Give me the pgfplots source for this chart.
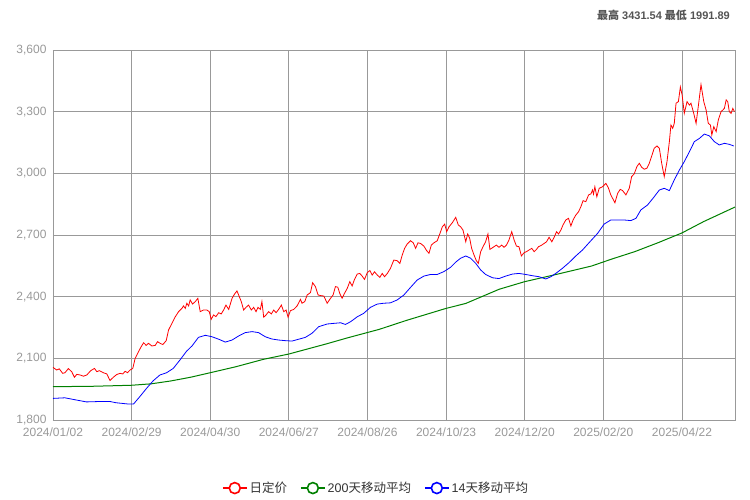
\documentclass[border=0pt]{standalone}
\usepackage{pgfplots}
\pgfplotsset{compat=1.18}
\usepackage{fontspec}
\setmainfont{Liberation Sans}
\newfontfamily\cjk{Noto Sans CJK SC}
\definecolor{gridgray}{HTML}{999999}
\definecolor{ticktext}{HTML}{999999}
\definecolor{ggreen}{HTML}{008000}
\begin{document}
\begin{tikzpicture}
\useasboundingbox (0,0) rectangle (750pt,500pt);
\node[anchor=east, font=\bfseries\fontsize{11}{13}\selectfont, text=black!67, inner sep=0pt] at (730pt,485pt) {{\cjk\bfseries 最高} 3431.54 {\cjk\bfseries 最低} 1991.89};
\begin{axis}[
  at={(53pt,80pt)}, anchor=south west,
  scale only axis, width=682pt, height=370pt,
  xmin=0, xmax=347, ymin=1800, ymax=3600,
  xtick={0,40,80,120,160,200,240,280,320},
  xticklabels={2024/01/02,2024/02/29,2024/04/30,2024/06/27,2024/08/26,2024/10/23,2024/12/20,2025/02/20,2025/04/22},
  ytick={1800,2100,2400,2700,3000,3300,3600},
  grid=major,
  major grid style={draw=gridgray, line width=0.8pt},
  axis line style={draw=gridgray, line width=0.8pt},
  major tick length=0pt,
  tick label style={font=\fontsize{12}{14}\selectfont, text=ticktext},
  xticklabel style={yshift=-4pt},
  /pgf/number format/assume math mode=true,
  yticklabel style={xshift=-3pt, /pgf/number format/.cd, fixed, 1000 sep={,}},
  legend columns=3,
  legend style={at={(0.4736,-0.184)}, anchor=center, draw=none, fill=none,
    font=\fontsize{12.5}{14}\selectfont, text=black!80,
    /tikz/every even column/.append style={column sep=11pt}},
  legend image code/.code={
    \draw[line width=1.6pt] (0pt,0pt) -- (24pt,0pt);
    \draw[line width=1.6pt, fill=white] (12pt,0pt) circle (5.5pt);
  },
]
\addplot[red, line width=0.8pt] coordinates {
(0,2056) (1.9,2043) (3.2,2049) (4.9,2027) (6.1,2030) (7.8,2050) (9.5,2035) (10.9,2008) (12.1,2022) (13.8,2019)
(15.5,2013) (17.2,2019) (19.2,2040) (21.1,2051) (22.3,2035) (23.6,2040) (25.6,2030) (27.4,2024) (29.0,1992) (30.7,2008)
(32.4,2021) (34.1,2027) (35.5,2024) (36.7,2037) (37.9,2030) (39.2,2043) (40.6,2051) (41.8,2100) (43.5,2132) (44.7,2154)
(46.1,2176) (47.4,2163) (48.6,2173) (50.3,2160) (52.0,2163) (53.2,2181) (54.5,2173) (55.9,2167) (57.6,2186) (58.8,2238)
(60.5,2270) (62.2,2302) (63.9,2327) (65.6,2343) (66.4,2355) (67.3,2343) (68.1,2368) (69.0,2355) (69.8,2384) (71.0,2364)
(72.4,2376) (73.7,2392) (74.9,2327) (76.6,2335) (78.3,2335) (79.5,2327) (80.5,2290) (81.7,2311) (82.9,2303) (84.3,2322)
(85.6,2316) (86.8,2335) (88.0,2359) (89.4,2338) (91.1,2392) (92.4,2413) (93.6,2428) (94.8,2400) (95.8,2376) (97.0,2335)
(98.2,2348) (99.5,2359) (100.9,2335) (102.1,2348) (103.3,2327) (104.3,2348) (105.5,2338) (106.3,2376) (107.2,2300) (108.4,2311)
(109.7,2327) (111.1,2316) (112.3,2335) (113.5,2322) (114.8,2338) (116.2,2359) (117.4,2327) (118.6,2335) (119.6,2300) (120.8,2332)
(122.5,2338) (124.2,2355) (125.9,2387) (126.7,2368) (128.1,2376) (129.3,2408) (131.0,2420) (132.1,2468) (133.5,2449) (134.9,2408)
(136.3,2405) (137.8,2403) (139.5,2368) (141.2,2392) (142.5,2408) (143.7,2449) (144.9,2446) (145.9,2416) (147.1,2392) (148.3,2416)
(149.7,2440) (151.0,2473) (152.2,2452) (153.4,2484) (154.8,2510) (156.1,2513) (157.3,2500) (158.5,2484) (159.9,2517) (161.2,2527)
(162.4,2505) (163.6,2521) (165.0,2505) (166.3,2494) (167.5,2513) (168.7,2497) (170.1,2513) (171.7,2538) (173.4,2578) (175.1,2575)
(176.5,2562) (177.7,2603) (178.9,2635) (180.2,2656) (181.9,2672) (183.3,2662) (184.5,2635) (185.7,2662) (187.0,2659) (188.7,2646)
(190.1,2624) (191.3,2611) (192.5,2651) (193.8,2662) (195.5,2672) (196.9,2708) (198.1,2740) (199.3,2753) (200.3,2716) (201.5,2740)
(203.2,2760) (204.9,2786) (206.2,2749) (207.4,2740) (208.6,2724) (210.0,2667) (211.0,2705) (212.0,2684) (213.0,2635) (214.2,2603)
(215.4,2575) (216.4,2562) (217.6,2619) (218.8,2643) (220.1,2667) (221.3,2705) (222.3,2630) (223.9,2640) (225.6,2651) (226.9,2640)
(228.3,2651) (229.5,2640) (230.7,2651) (232.0,2676) (233.4,2716) (234.6,2676) (235.8,2646) (237.1,2643) (238.3,2598) (239.7,2614)
(240.9,2619) (242.2,2627) (243.6,2635) (244.8,2619) (246.0,2630) (247.0,2643) (248.7,2651) (249.9,2659) (251.1,2667) (252.4,2689)
(253.8,2667) (255.0,2689) (256.2,2716) (257.2,2705) (258.4,2724) (259.5,2749) (260.9,2773) (262.3,2781) (263.5,2744) (264.6,2773)
(266.0,2797) (267.4,2813) (268.6,2838) (269.7,2867) (271.1,2862) (272.5,2895) (273.7,2900) (274.5,2919) (275.0,2899) (275.7,2935)
(276.7,2886) (277.9,2927) (279.6,2935) (281.3,2951) (282.5,2931) (283.8,2895) (285.9,2857) (287.3,2903) (288.6,2922) (289.8,2916)
(291.5,2895) (293.2,2927) (294.4,2984) (295.7,2997) (297.1,3033) (298.3,3049) (299.5,3030) (300.8,3020) (302.2,3025) (303.4,3049)
(304.6,3084) (305.9,3122) (307.3,3133) (308.5,3122) (309.7,3049) (311.0,2984) (312.4,3057) (313.6,3154) (314.4,3235) (315.3,3219)
(316.1,3243) (317.0,3341) (318.2,3349) (319.2,3420) (320.1,3381) (321.2,3292) (322.6,3349) (323.8,3332) (324.6,3341) (326.0,3292)
(327.2,3243) (328.3,3324) (329.7,3431.54) (331.1,3349) (332.3,3308) (333.4,3243) (334.5,3235) (335.2,3186) (336.2,3227) (337.4,3203)
(338.5,3259) (339.9,3300) (340.8,3308) (341.6,3316) (342.5,3357) (343.3,3349) (344.1,3300) (345.0,3292) (345.9,3316) (346.7,3300)
};
\addlegendentry{{\cjk 日定价}}
\addplot[ggreen, line width=1pt] coordinates {
(0,1962) (20,1964) (40,1969) (50,1976) (60,1990) (70,2008) (80,2030) (93,2059) (107,2095) (120,2121)
(139,2170) (150,2200) (166,2241) (180,2285) (200,2343) (210,2367) (227,2436) (240,2473) (256,2508) (274,2549)
(284,2582) (296,2619) (308,2663) (320,2710) (331,2765) (347,2836)
};
\addlegendentry{200{\cjk 天移动平均}}
\addplot[blue, line width=0.8pt] coordinates {
(0,1905) (6,1908) (12,1897) (17,1888) (24,1890) (29,1890) (32,1884) (38,1878) (41,1878) (44.2,1914)
(47.6,1954) (51,1991) (54.4,2019) (57.8,2030) (61.2,2051) (64.6,2092) (68,2135) (70.7,2160) (74,2202) (77.5,2212)
(80.9,2205) (84.3,2193) (87.7,2179) (91.1,2189) (94.5,2209) (97.8,2225) (101.3,2230) (104.6,2225) (108,2205) (111.4,2194)
(114.8,2189) (118.2,2186) (121.6,2184) (125,2193) (128.4,2202) (131.8,2222) (135.2,2254) (139.5,2267) (142.8,2270) (146.3,2273)
(148.8,2265) (151.4,2278) (154.8,2302) (158.1,2319) (161.5,2348) (165,2364) (168.3,2368) (171.7,2370) (175.1,2384) (178.5,2408)
(181.9,2445) (185.3,2481) (188.7,2500) (192.1,2508) (195.5,2508) (198.9,2522) (202.3,2543) (204.9,2568) (207.4,2587) (210,2598)
(212.5,2587) (215.1,2562) (217.6,2530) (220.1,2508) (223.6,2492) (226.9,2488) (230.3,2500) (233.8,2510) (237.1,2513) (240.5,2508)
(243.9,2502) (247.3,2497) (250.7,2486) (253.3,2497) (255.8,2513) (259.2,2538) (262.6,2566) (266,2598) (269.4,2627) (272.8,2663)
(277.1,2708) (280.4,2753) (283.8,2773) (287.3,2773) (290.6,2773) (294,2770) (296.6,2781) (299.1,2822) (302.5,2846) (305.9,2886)
(308.5,2919) (311,2927) (313.6,2916) (316.1,2968) (318.7,3016) (321.2,3057) (323.8,3105) (326.3,3154) (328.9,3170) (331.4,3191)
(334,3182) (336.5,3154) (339,3138) (341.6,3146) (344.1,3141) (346.4,3133)
};
\addlegendentry{14{\cjk 天移动平均}}
\end{axis}
\end{tikzpicture}
\end{document}
